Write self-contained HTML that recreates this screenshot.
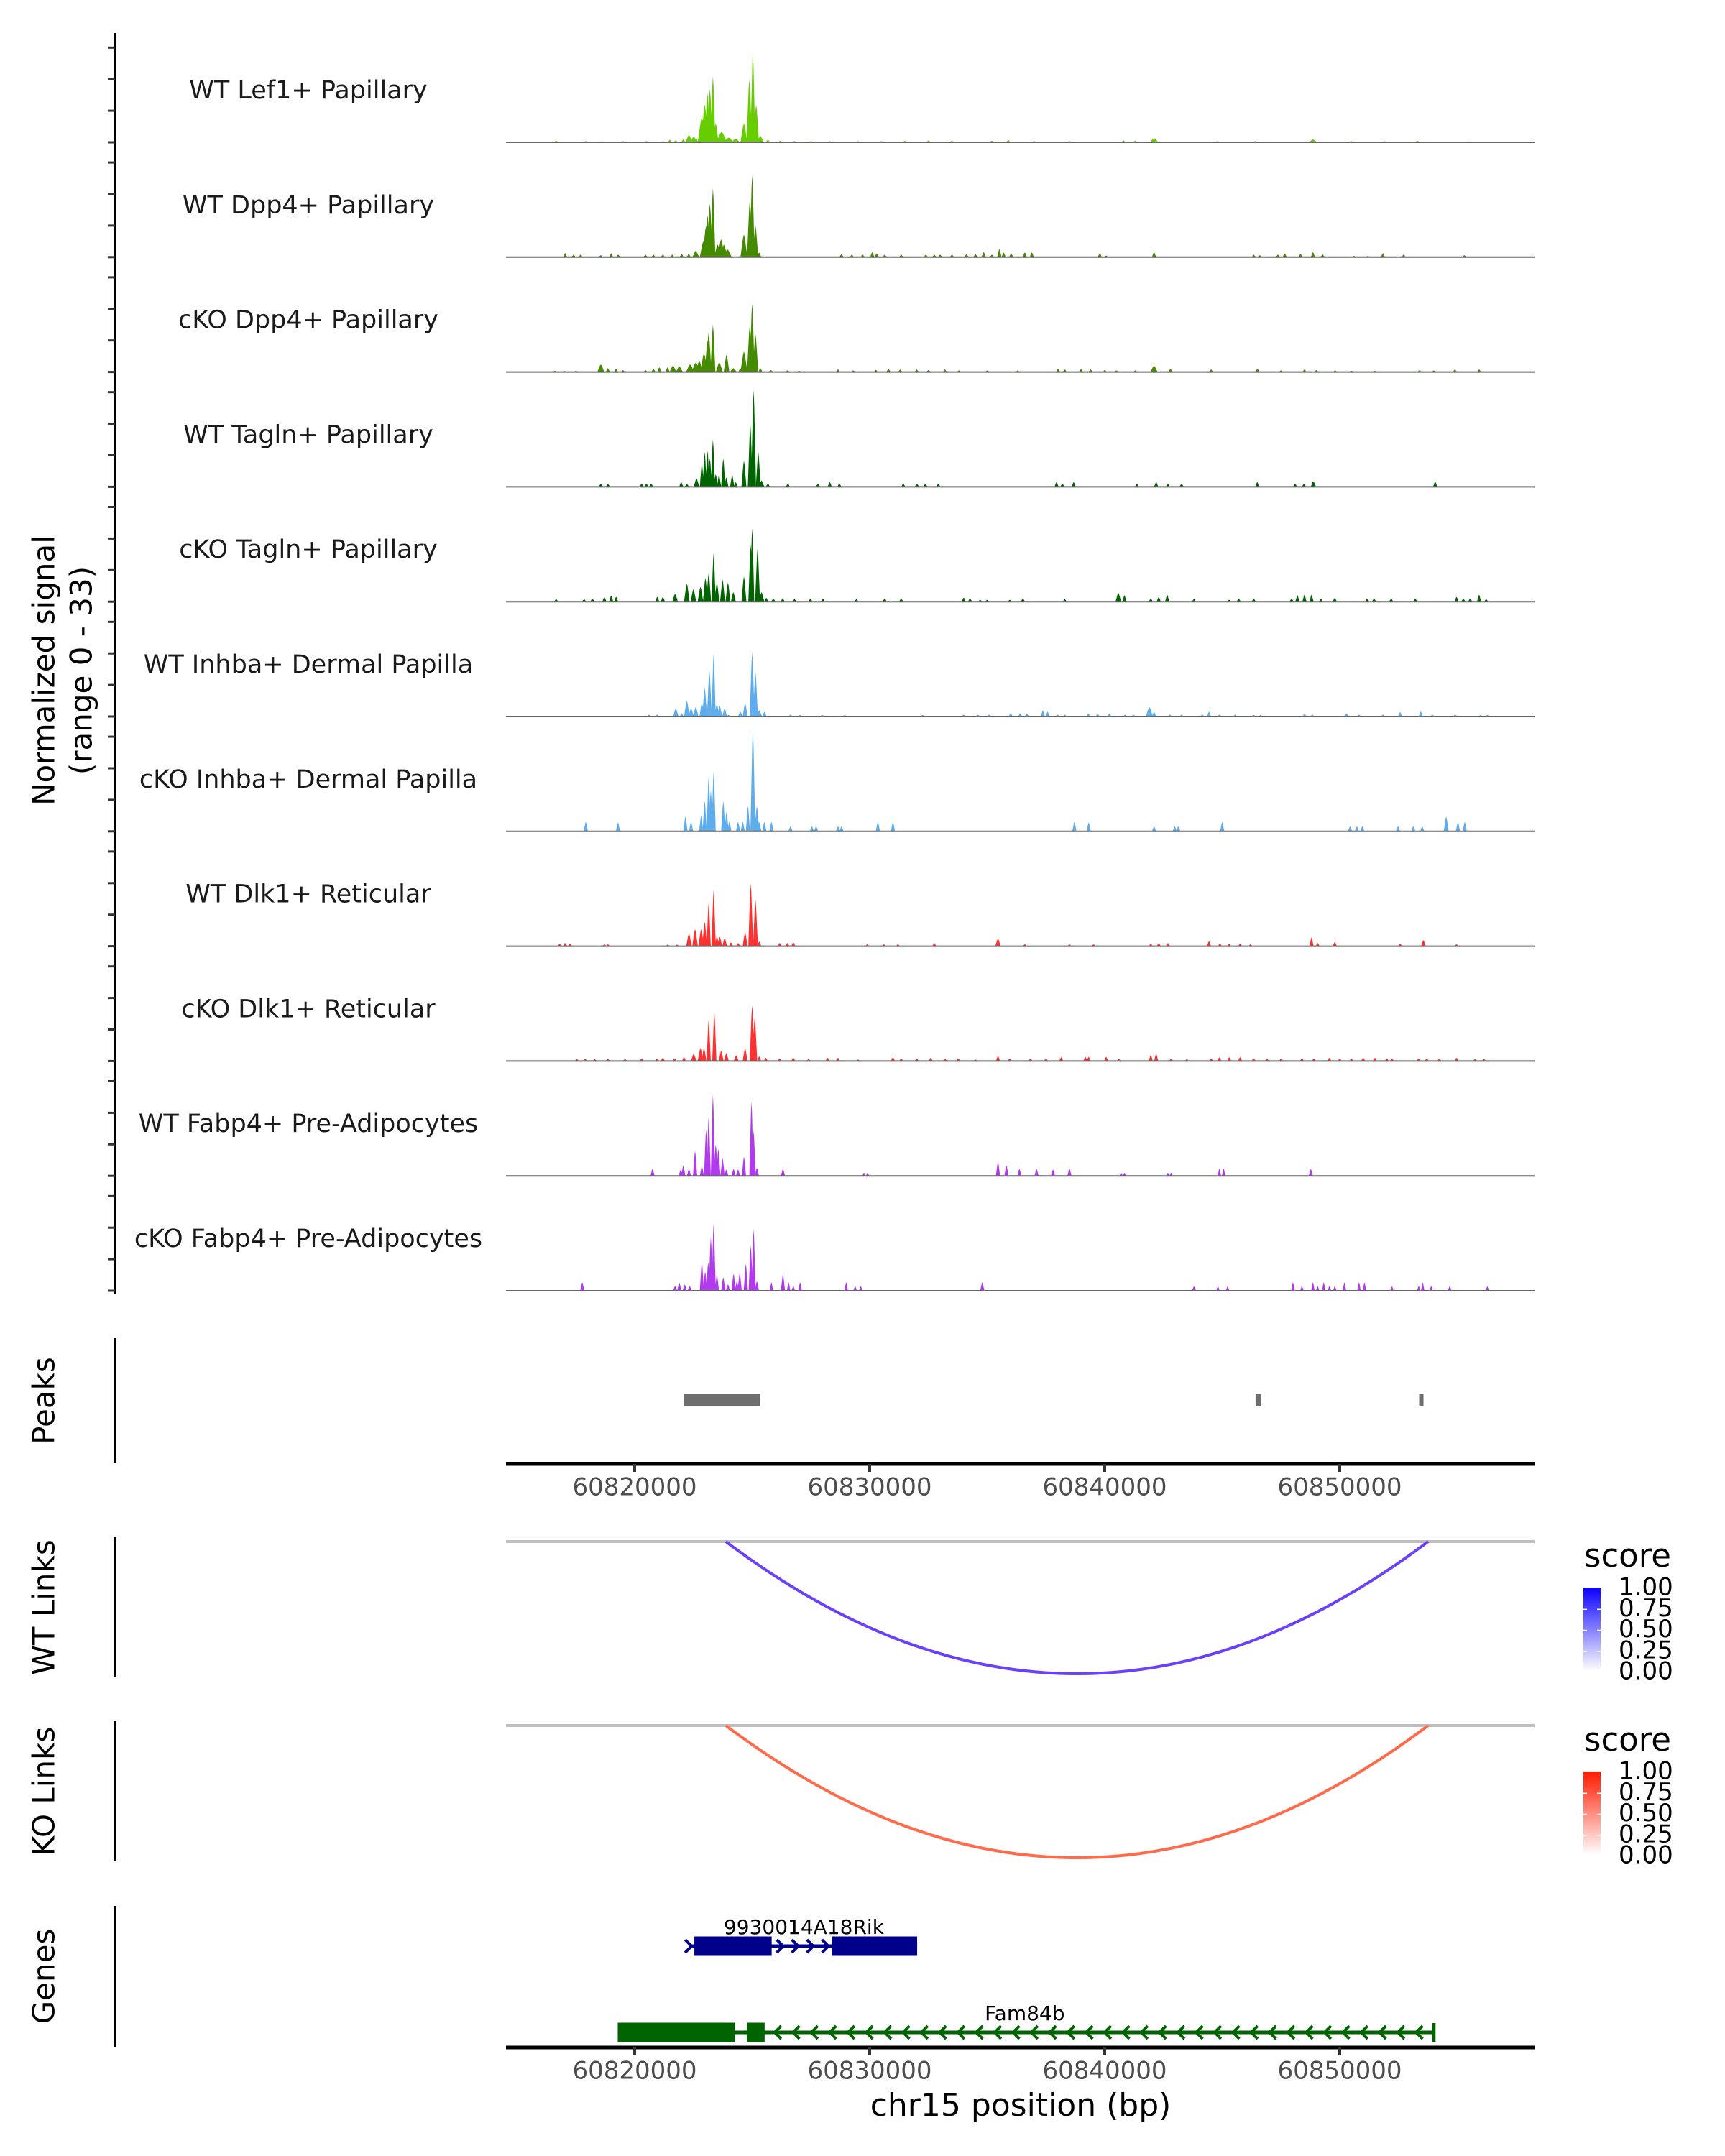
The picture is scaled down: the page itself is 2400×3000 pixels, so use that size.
<!DOCTYPE html>
<html><head><meta charset="utf-8"><style>
html,body{margin:0;padding:0;background:#fff}
svg{display:block}
text{font-family:"DejaVu Sans","Liberation Sans",sans-serif}
</style></head><body>
<svg id="chart" xmlns="http://www.w3.org/2000/svg" width="2400" height="3000" viewBox="0 0 2400 3000">
<defs>
<linearGradient id="gBlue" x1="0" y1="0" x2="0" y2="1"><stop offset="0" stop-color="#0a00ff"/><stop offset="1" stop-color="#ffffff"/></linearGradient>
<linearGradient id="gRed" x1="0" y1="0" x2="0" y2="1"><stop offset="0" stop-color="#ff1a00"/><stop offset="1" stop-color="#ffffff"/></linearGradient>
</defs>
<g id="tracks"></g>
<g id="rest"></g>
</svg>
<script>
// positions in kb offset from 60,800,000; [positionKb, signal, halfWidthKb?]
const trackNames = ["WT Lef1+ Papillary","WT Dpp4+ Papillary","cKO Dpp4+ Papillary","WT Tagln+ Papillary","cKO Tagln+ Papillary","WT Inhba+ Dermal Papilla","cKO Inhba+ Dermal Papilla","WT Dlk1+ Reticular","cKO Dlk1+ Reticular","WT Fabp4+ Pre-Adipocytes","cKO Fabp4+ Pre-Adipocytes"];
const trackColors = ["#66cd00","#458b00","#458b00","#006400","#006400","#5cacee","#5cacee","#ff3030","#ff3030","#b23aee","#b23aee"];
const signalTicks = [0,10,20,30];
const xTicksKb = [20,30,40,50];
const xTickLabels = ["60820000","60830000","60840000","60850000"];

const sigWTLef1 = [[16.66,0.5],[17.92,0.4],[18.6,0.3],[19.5,0.4],[20.5,0.4],[21.2,0.4],[21.49,0.8],[21.75,0.6],[22.07,1.0],[22.31,2.3,0.1],[22.51,1.8,0.1],[22.63,1.0],[22.86,8,0.12],[22.98,12,0.1],[23.1,15.6,0.08],[23.2,17,0.08],[23.33,21,0.07],[23.45,6,0.08],[23.7,3.4,0.15],[24.0,1.5,0.15],[24.3,1.2,0.12],[24.65,6,0.1],[24.88,20,0.08],[25.03,28.4,0.07],[25.17,12,0.08],[25.35,2,0.1],[25.67,0.8],[26.2,0.5],[26.8,0.4],[27.5,0.4],[28.3,0.4],[29.5,0.4],[30.5,0.4],[31.5,0.5],[32.5,0.6],[33.5,0.5],[35.2,0.5],[35.9,0.7],[37,0.4],[38.5,0.4],[40.8,0.6],[41.3,0.5],[42.1,1.3,0.12],[44.8,0.4],[46.4,0.4],[48.86,0.9,0.12],[50.5,0.4],[51.9,0.4],[53.3,0.5],[55.5,0.3]];
const sigWTDpp4 = [[17.04,1.3],[17.4,0.8],[17.7,0.8],[18.56,0.6],[19.0,1.2],[19.3,0.8],[20.46,0.8],[20.8,0.8],[21.2,0.8],[21.6,0.8],[22.0,1.0],[22.3,1.0],[22.6,2.0,0.1],[22.92,5,0.1],[23.04,10,0.1],[23.1,13.3,0.08],[23.2,17,0.08],[23.33,21.9,0.07],[23.53,4,0.1],[23.68,5.7,0.1],[23.8,4,0.1],[23.95,2.5,0.12],[24.65,7.2,0.1],[24.9,18,0.08],[25.0,26,0.07],[25.14,10,0.08],[25.3,1.5],[28.8,1.0],[29.24,0.8],[29.7,0.8],[30.11,1.6],[30.3,1.2],[30.64,0.8],[31.34,0.8],[32.39,0.8],[32.75,0.8],[33.0,0.8],[33.5,0.8],[34.12,1.0],[34.5,1.0],[34.85,1.6],[35.2,0.8],[35.52,2.6],[35.7,1.5],[36.02,1.2],[36.6,1.5],[36.9,1.5],[39.79,1.2],[40.06,0.5],[42.1,1.6],[46.34,0.8],[46.6,0.6],[47.37,0.8],[47.66,1.2],[48.33,1.0],[48.86,1.6],[49.27,0.9],[50.6,0.4],[51.2,0.4],[51.84,1.3],[52.72,0.8],[55.3,0.6]];
const sigcKODpp4 = [[16.6,0.4],[17.0,0.4],[17.5,0.4],[18.56,2.4,0.1],[18.86,1.2],[19.21,1.0],[19.5,0.6],[20.46,0.6],[20.8,1.0],[21.05,1.5],[21.4,1.5],[21.63,2,0.1],[21.9,1.8,0.1],[22.36,2.4,0.12],[22.6,3,0.12],[22.75,3.5,0.1],[22.95,6,0.1],[23.1,10,0.08],[23.15,12.6,0.08],[23.33,15,0.07],[23.6,3,0.1],[23.91,5.5,0.08],[24.2,1.2,0.1],[24.5,1.2],[24.65,6.5,0.1],[24.9,15,0.08],[25.0,21.8,0.07],[25.14,12,0.08],[25.35,1.2],[25.8,0.6],[26.5,0.5],[27.0,0.4],[28.65,0.8],[29.3,0.5],[30.26,0.7],[30.8,1.0],[31.3,0.8],[32.0,0.8],[32.5,0.6],[33.2,0.8],[33.8,0.5],[35.0,0.5],[36.3,0.5],[38.01,1.0],[38.3,0.8],[39.0,1.0],[39.4,0.8],[40.0,0.6],[40.5,0.5],[41.3,0.5],[42.1,2.0,0.1],[42.8,1.0],[44.53,0.8],[46.5,1.0],[47.5,0.5],[48.5,0.8],[49.0,0.6],[49.8,0.5],[50.5,0.4],[51.5,0.4],[53.4,0.6],[54.0,0.5],[54.9,0.8],[55.93,0.8]];
const sigWTTagln = [[18.56,1.0],[18.86,1.0],[20.3,1.0],[20.5,1.0],[20.7,1.0],[21.98,1.5],[22.22,1.0],[22.63,2.7,0.08],[22.86,7.3,0.06],[22.98,11,0.06],[23.1,11.4,0.06],[23.2,9,0.06],[23.33,15,0.06],[23.45,4,0.06],[23.59,3.8,0.06],[23.77,9,0.06],[23.9,3,0.06],[24.15,3.8,0.06],[24.3,1.5,0.06],[24.65,8.3,0.07],[24.92,20,0.07],[25.06,30.7,0.07],[25.26,11,0.07],[25.4,2,0.08],[25.67,1.0],[26.52,1.0],[27.8,1.0],[28.3,1.5],[28.71,1.0],[31.43,1.0],[32.01,1.0],[32.37,1.0],[32.92,1.0],[37.95,1.5],[38.2,1.0],[38.68,1.5],[41.37,1.0],[42.19,1.5],[42.69,1.0],[43.27,1.0],[46.49,1.5],[48.10,1.0],[48.48,1.0],[48.86,1.7],[48.9,1.5],[54.06,1.7]];
const sigcKOTagln = [[16.66,0.8],[17.85,0.8],[18.2,1.0],[18.71,1.4],[19.0,1.9],[19.21,1.5],[20.96,1.5],[21.2,1.5],[21.72,2.5,0.08],[22.22,5.7,0.08],[22.5,4.0,0.08],[22.80,4.7,0.08],[23.01,7.5,0.07],[23.15,9,0.07],[23.36,15.4,0.06],[23.5,6,0.07],[23.74,7,0.07],[23.97,6,0.07],[24.2,3,0.07],[24.65,8,0.07],[24.94,18,0.07],[25.0,23.3,0.06],[25.23,17,0.07],[25.4,3,0.08],[25.6,1.2],[25.9,1.0],[26.3,1.0],[26.8,0.8],[27.48,1.0],[28.01,1.0],[29.44,0.8],[30.64,1.0],[31.34,1.0],[34.0,1.3],[34.27,1.0],[34.7,0.6],[35.0,0.6],[35.96,0.6],[36.52,1.0],[38.30,0.8],[40.58,2.8,0.08],[40.84,2.0],[41.96,1.0],[42.3,1.5],[42.66,2.2],[43.80,0.8],[45.3,0.6],[45.7,1.0],[46.34,1.0],[47.95,1.0],[48.2,2.0],[48.5,2.2],[48.8,2.2],[49.2,1.0],[49.79,1.2],[51.17,1.0],[51.46,1.0],[52.19,1.0],[53.21,1.0],[54.97,1.5],[55.26,1.0],[55.55,1.0],[55.93,2.2],[56.23,0.8]];
const sigWTInhba = [[20.61,0.6],[20.96,0.6],[21.75,2.5,0.08],[22.0,1.0],[22.22,5,0.08],[22.4,2.5,0.08],[22.60,3,0.08],[22.86,4.3,0.07],[22.98,9,0.07],[23.18,14.7,0.07],[23.36,19.9,0.06],[23.5,4,0.07],[23.62,3.4,0.07],[23.83,2.5,0.07],[24.0,0.5],[24.5,1.5,0.07],[24.70,4.3,0.07],[25.0,20.4,0.07],[25.14,14.2,0.07],[25.3,2,0.08],[25.52,1.5],[26.63,0.6],[27.04,0.5],[27.98,0.5],[28.94,0.5],[32.25,0.5],[34.0,0.6],[34.6,0.6],[35.08,0.6],[36.0,1.0],[36.4,1.0],[36.69,1.0],[37.37,1.9],[37.57,1.5],[38.0,0.6],[38.3,0.6],[39.3,1.0],[39.7,0.8],[40.2,1.0],[40.87,0.6],[41.22,0.6],[41.90,3,0.1],[42.1,1.5],[42.77,0.6],[43.27,0.6],[44.15,0.6],[44.44,1.5],[44.88,0.6],[45.55,0.6],[46.34,0.5],[46.63,0.5],[48.5,0.8],[48.83,0.6],[50.29,1.0],[50.82,0.6],[51.84,0.6],[52.57,1.4],[53.45,1.6],[53.94,0.6],[54.91,0.6],[55.99,0.5],[56.28,0.5]];
const sigcKOInhba = [[17.92,3,0.06],[19.29,2.8,0.06],[22.16,4.7,0.06],[22.4,3,0.06],[22.83,4.9,0.06],[22.98,9.6,0.06],[23.15,17.6,0.06],[23.24,13,0.06],[23.36,19,0.06],[23.77,9.6,0.06],[23.91,6.3,0.06],[24.03,3,0.06],[24.4,3,0.06],[24.6,3,0.06],[24.82,8,0.06],[25.03,32.5,0.07],[25.2,8,0.07],[25.3,3,0.06],[25.52,3,0.06],[25.82,3,0.06],[26.63,1.6,0.06],[27.54,1.6,0.06],[27.72,1.6,0.06],[28.65,1.6,0.06],[28.80,1.6,0.06],[30.35,3,0.06],[30.99,3,0.06],[38.71,3,0.06],[39.32,2.8,0.06],[42.10,1.6,0.06],[42.98,1.6,0.06],[43.13,1.6,0.06],[45.0,3,0.06],[50.44,1.6,0.06],[50.73,1.6,0.06],[50.96,1.6,0.06],[52.48,1.6,0.06],[53.13,1.6,0.06],[53.51,1.5,0.06],[54.53,4.7,0.07],[55.03,3,0.06],[55.32,3,0.06]];
const sigWTDlk1 = [[16.81,0.8],[17.04,1.0],[17.25,0.8],[18.71,0.6],[18.86,0.6],[21.40,0.5],[21.8,0.5],[22.31,4,0.08],[22.57,5.4,0.08],[22.83,5.4,0.08],[22.98,7.7,0.07],[23.15,13.9,0.06],[23.36,17.9,0.06],[23.5,3,0.07],[23.62,3,0.07],[23.83,2.5,0.07],[24.1,1.2],[24.4,1.0],[24.70,4.4,0.07],[24.94,19.8,0.07],[25.14,14.8,0.07],[25.3,1.5],[26.17,1.0],[26.5,1.0],[26.75,1.2],[29.9,0.6],[30.6,0.6],[31.2,0.6],[32.75,1.0],[35.46,2.4,0.08],[36.60,0.6],[38.50,0.6],[39.53,0.6],[41.96,0.8],[42.3,1.0],[42.69,1.0],[44.44,1.6],[44.9,0.8],[45.3,0.8],[45.76,0.8],[46.2,0.6],[48.80,2.8,0.06],[49.06,1.0],[49.79,1.3],[52.57,0.8],[53.56,1.9,0.07],[54.97,0.6]];
const sigcKODlk1 = [[17.54,0.6],[17.9,0.6],[18.3,0.6],[18.86,0.6],[19.59,0.6],[20.3,0.8],[20.96,0.8],[21.2,1.0],[21.7,0.8],[22.1,1.2],[22.51,2.3,0.08],[22.8,4.1,0.08],[22.95,4.1,0.07],[23.15,13.2,0.06],[23.39,15.5,0.06],[23.68,3.3,0.07],[23.9,2.5,0.07],[24.32,1.8,0.07],[24.70,4.1,0.07],[25.0,17.6,0.07],[25.11,14,0.07],[25.3,1.5],[25.58,1.0],[26.17,0.8],[26.75,1.0],[27.4,0.6],[28.21,1.0],[28.65,1.0],[29.5,0.5],[30.99,1.2],[31.34,0.8],[32.0,0.8],[32.6,1.0],[33.2,0.8],[33.77,0.8],[34.5,0.5],[35.46,1.6],[35.96,0.8],[36.84,0.8],[37.5,0.8],[38.15,1.2],[39.18,1.3],[39.32,1.3],[40.06,1.3],[40.6,0.6],[41.96,1.9],[42.19,2.3],[42.83,0.8],[43.5,0.6],[44.53,0.8],[44.88,1.2],[45.3,1.2],[45.76,1.2],[46.34,0.8],[46.9,0.8],[47.51,0.8],[48.39,0.8],[48.9,0.8],[49.56,1.0],[50.0,0.8],[50.5,0.8],[51.0,1.0],[51.5,1.0],[52.0,0.8],[52.22,0.8],[53.36,0.8],[53.7,0.8],[54.24,0.8],[54.97,1.0],[55.76,0.6],[56.14,0.6]];
const sigWTFabp4 = [[20.76,2.2,0.06],[21.96,2.0,0.06],[22.07,3.3,0.06],[22.31,2.2,0.06],[22.57,7.9,0.06],[22.86,3,0.06],[23.04,14.7,0.06],[23.15,18.9,0.06],[23.33,25.8,0.06],[23.45,10,0.06],[23.56,8.6,0.06],[23.74,5.6,0.06],[23.9,2,0.06],[24.21,2.2,0.06],[24.40,2,0.06],[24.65,6,0.06],[24.97,23.6,0.06],[25.06,14.3,0.06],[25.2,2.5,0.06],[26.31,2.2,0.06],[29.76,1.0,0.05],[29.91,1.0,0.05],[35.46,4.5,0.06],[35.82,3.3,0.06],[36.37,2.2,0.06],[37.10,2.2,0.06],[37.80,2.0,0.06],[38.50,2.3,0.06],[40.70,1.0,0.05],[40.84,1.0,0.05],[42.69,1.0,0.05],[42.83,1.0,0.05],[44.88,2.3,0.05],[45.06,2.3,0.05],[48.77,2.2,0.06]];
const sigcKOFabp4 = [[17.77,2.7,0.06],[21.72,1.5,0.06],[21.9,2.6,0.06],[22.13,2,0.06],[22.34,1.5,0.06],[22.86,9,0.06],[23.0,6,0.06],[23.13,9,0.06],[23.24,17,0.06],[23.36,21.3,0.06],[23.5,5,0.06],[23.77,4.3,0.06],[23.97,2,0.06],[24.21,5.4,0.06],[24.35,3,0.06],[24.47,5.6,0.06],[24.73,8.6,0.06],[24.94,14.3,0.06],[25.06,19.5,0.06],[25.2,3,0.06],[25.82,2.7,0.05],[26.31,5.2,0.06],[26.55,2.7,0.05],[26.75,1.5,0.05],[27.04,2.7,0.05],[29.00,2.7,0.05],[29.38,1.5,0.05],[29.62,1.5,0.05],[34.79,2.7,0.06],[43.80,1.4,0.06],[44.82,1.4,0.05],[45.23,1.4,0.05],[48.01,2.7,0.05],[48.39,1.5,0.05],[48.86,2.7,0.05],[49.06,1.5,0.05],[49.32,2.7,0.05],[49.56,1.5,0.05],[49.79,1.5,0.05],[50.20,2.7,0.05],[50.82,2.7,0.05],[51.05,2.7,0.05],[52.22,1.4,0.05],[53.36,1.5,0.05],[53.53,2.7,0.05],[53.89,1.5,0.05],[54.68,1.5,0.05],[56.28,1.4,0.05]];
const trackSignals = [sigWTLef1,sigWTDpp4,sigcKODpp4,sigWTTagln,sigcKOTagln,sigWTInhba,sigcKOInhba,sigWTDlk1,sigcKODlk1,sigWTFabp4,sigcKOFabp4];

const peakRegions = [[22.11,25.35],[46.42,46.66],[53.38,53.54]];
const wtLinks = [[23.88,53.76,0.85]];
const koLinks = [[23.88,53.76,0.6]];
const legendLabels = ["1.00","0.75","0.50","0.25","0.00"];
const gene1Exons = [[22.54,25.83],[28.40,32.02]];
const gene1Span = [22.33,32.02];
const gene2Exons = [[19.28,24.26],[24.77,25.53]];
const gene2Span = [19.28,54.0];

const NS="http://www.w3.org/2000/svg";
const PXKB=32.7;
const X0=704, X1=2135;
function x(kb){return 883+(kb-20)*PXKB;}
const UNIT=4.39;
function baseY(i){return 198+159.8*i;}
function yv(i,v){return baseY(i)-v*UNIT;}
function el(tag,attrs,parent,txt){const e=document.createElementNS(NS,tag);for(const k in attrs)e.setAttribute(k,attrs[k]);if(txt!==undefined)e.textContent=txt;parent.appendChild(e);return e;}
const T=document.getElementById('tracks'), R=document.getElementById('rest');

const ax=el('line',{x1:160,y1:46,x2:160,y2:1800,stroke:'#000','stroke-width':3.5},T);


trackNames.forEach((nm,i)=>{
  const g=el('g',{},T);
  
  
  signalTicks.forEach(t=>{
    const tk=el('line',{x1:150,x2:160,y1:yv(i,t),y2:yv(i,t),stroke:'#333','stroke-width':3},g);
    
    
  });
  trackSignals[i].forEach(s=>{
    const w=(s[2]||0.06)*1.5;
    const p=el('polygon',{points:`${x(s[0]-w)},${baseY(i)} ${x(s[0]-w*0.25)},${yv(i,s[1]*0.85)} ${x(s[0])},${yv(i,s[1])} ${x(s[0]+w*0.25)},${yv(i,s[1]*0.85)} ${x(s[0]+w)},${baseY(i)}`,fill:trackColors[i]},g);
    
    
  });
  const bl=el('line',{x1:X0,x2:X1,y1:baseY(i),y2:baseY(i),stroke:'#666','stroke-width':2},g);
  
  
  const lb=el('text',{x:429,y:baseY(i)-71,'font-size':35,'text-anchor':'middle','dominant-baseline':'middle',fill:'#1a1a1a'},g,nm);
  
  
});
const yt=el('text',{transform:'translate(64,933) rotate(-90)','font-size':42,'text-anchor':'middle','dominant-baseline':'middle',fill:'#000'},T,'Normalized signal');


const yt2=el('text',{transform:'translate(116,933) rotate(-90)','font-size':42,'text-anchor':'middle','dominant-baseline':'middle',fill:'#000'},T,'(range 0 - 33)');



function sideLabel(txt,y0,y1,name){
  const l=el('line',{x1:160,x2:160,y1:y0,y2:y1,stroke:'#000','stroke-width':3.5},R);
  
  
  const t=el('text',{transform:`translate(64,${(y0+y1)/2}) rotate(-90)`,'font-size':42,'text-anchor':'middle','dominant-baseline':'middle',fill:'#000'},R,txt);
  
  
}
function xAxis(y,name){
  const l=el('line',{x1:X0,x2:X1,y1:y,y2:y,stroke:'#000','stroke-width':5},R);
  
  
  xTicksKb.forEach((k,j)=>{
    const tk=el('line',{x1:x(k),x2:x(k),y1:y,y2:y+11,stroke:'#333','stroke-width':4},R);
    
    
    const tl=el('text',{x:x(k),y:y+34,'font-size':34,'text-anchor':'middle','dominant-baseline':'middle',fill:'#4d4d4d'},R,xTickLabels[j]);
    
    
  });
}
sideLabel('Peaks',1862,2036,'peaks');
peakRegions.forEach(p=>{
  const r=el('rect',{x:x(p[0]),y:1940,width:Math.max(6,x(p[1])-x(p[0])),height:17,fill:'#6e6e6e'},R);
  
  
});
xAxis(2037,'peaks-x-axis');

function linkPanel(base,bottom,links,color,label,name){
  sideLabel(label,base-6,base+189,name);
  const bl=el('line',{x1:X0,x2:X1,y1:base,y2:base,stroke:'#bebebe','stroke-width':4},R);
  
  
  links.forEach(k=>{
    const xa=x(k[0]),xb=x(k[1]),cy=base+2*(bottom-base);
    const p=el('path',{d:`M${xa},${base} Q${(xa+xb)/2},${cy} ${xb},${base}`,fill:'none',stroke:color,'stroke-width':4},R);
    
    
  });
}
linkPanel(2145,2329,wtLinks,'#6a40fa','WT Links','wt-links');
linkPanel(2401,2585,koLinks,'#ff6a4a','KO Links','ko-links');
function legend(y0,grad,name){
  const t=el('text',{x:2204,y:y0,'font-size':45,'dominant-baseline':'middle',fill:'#000'},R,'score');
  
  
  const b=el('rect',{x:2203,y:y0+41,width:24,height:116,fill:`url(#${grad})`},R);
  
  
  legendLabels.forEach((lab,j)=>{
    const ly=y0+42+j*29.3;
    if(j>0&&j<4){el('line',{x1:2203,x2:2208,y1:ly,y2:ly,stroke:'#fff','stroke-width':1.5},R);el('line',{x1:2222,x2:2227,y1:ly,y2:ly,stroke:'#fff','stroke-width':1.5},R);}
    const tl=el('text',{x:2252,y:ly,'font-size':34,'dominant-baseline':'middle',fill:'#000'},R,lab);
    
    
  });
}
legend(2168,'gBlue','wt');
legend(2424,'gRed','ko');

sideLabel('Genes',2652,2848,'genes');
function gene(exons,span,y,color,label,lx,dir,name){
  const g=el('g',{},R);
  
  
  el('line',{x1:x(span[0]),x2:x(span[1]),y1:y,y2:y,stroke:color,'stroke-width':5},g);
  exons.forEach(e=>{
    const r=el('rect',{x:x(e[0]),y:y-13.5,width:x(e[1])-x(e[0]),height:27,fill:color},g);
    
    
  });
  const s=x(span[0]);
  for(let px=(dir>0?x(exons[0][1])+12:x(exons[exons.length-1][1])+18);px<(dir>0?x(exons[1][0])-4:x(span[1])-6);px+=(dir>0?21:25.5)){
    const d=dir>0?`M${px-5},${y-9} L${px+4},${y} L${px-5},${y+9}`:`M${px+5},${y-9} L${px-4},${y} L${px+5},${y+9}`;
    el('path',{d:d,fill:'none',stroke:color,'stroke-width':4},g);
  }
  if(dir>0){el('path',{d:`M${s-6},${y-9} L${s+3},${y} L${s-6},${y+9}`,fill:'none',stroke:color,'stroke-width':4},g);}
  else{el('line',{x1:x(span[1]),x2:x(span[1]),y1:y-13,y2:y+13,stroke:color,'stroke-width':5},g);}
  const t=el('text',{x:lx,y:y-25,'font-size':28,'text-anchor':'middle','dominant-baseline':'middle',fill:'#000'},g,label);
  
  
}
gene(gene1Exons,gene1Span,2708,'#00008b','9930014A18Rik',x(27.2),1,'gene-9930014a18rik');
gene(gene2Exons,gene2Span,2828,'#006400','Fam84b',x(36.6),-1,'gene-fam84b');
xAxis(2849,'genes-x-axis');
const xt=el('text',{x:1420,y:2932,'font-size':44,'text-anchor':'middle','dominant-baseline':'middle',fill:'#000'},R,'chr15 position (bp)');


</script>
</body></html>
